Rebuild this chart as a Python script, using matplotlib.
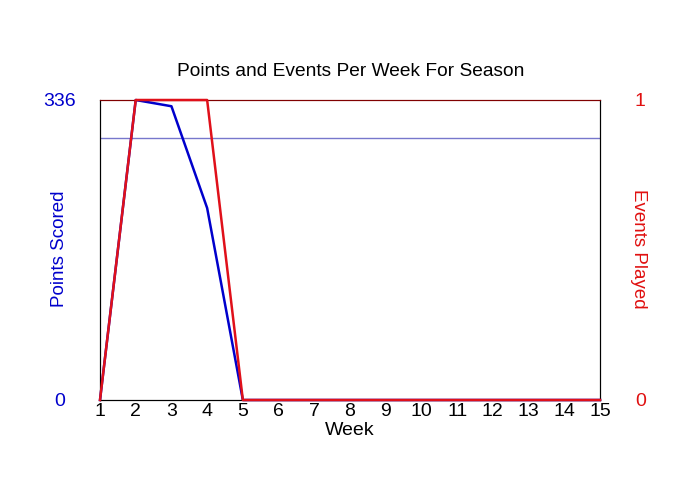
import matplotlib
matplotlib.use("Agg")
import matplotlib.pyplot as plt

weeks = list(range(1, 16))
points = [0, 336, 329, 215, 0, 0, 0, 0, 0, 0, 0, 0, 0, 0, 0]
events = [0, 1, 1, 1, 0, 0, 0, 0, 0, 0, 0, 0, 0, 0, 0]
avg_points = 293
title = "Points and Events Per Week For Season"

plt.rcParams['font.family'] = ['Liberation Sans', 'DejaVu Sans']

fig = plt.figure(figsize=(7, 5), dpi=100)
ax = fig.add_axes([100/700, 0.2, 500/700, 0.6])
ax2 = ax.twinx()

ax.plot(weeks, points, color='#0000cc', lw=1.8, zorder=3, clip_on=False)
ax.axhline(avg_points, color='#7777cc', lw=1, xmax=0.998)
ax2.plot(weeks, events, color='#e0101a', lw=1.8, zorder=3, clip_on=False)

ax.set_xlim(1, 15)
ax.set_ylim(0, 336)
ax2.set_ylim(0, 1)
ax.set_xticks(weeks)
ax.set_yticks([0, 336])
ax2.set_yticks([0, 1])
ax.tick_params(axis='x', length=0, pad=2, labelsize=14)
ax.tick_params(axis='y', length=0, pad=29, labelsize=14, labelcolor='#0000cc')
ax2.tick_params(axis='y', length=0, pad=29, labelsize=14, labelcolor='#e01010')
for lab in ax.get_yticklabels():
    lab.set_horizontalalignment('center')
for lab in ax2.get_yticklabels():
    lab.set_horizontalalignment('center')

for a in (ax, ax2):
    a.spines['top'].set_color('#800000')
    for s in ('left', 'right', 'bottom'):
        a.spines[s].set_color('black')

ax.set_xlabel("Week", fontsize=14, va='center')
ax.xaxis.set_label_coords(0.5, -0.103)
ax.set_ylabel("Points Scored", fontsize=13.5, color='#0000cc', va='center')
ax.yaxis.set_label_coords(-0.081, 0.503)
ax2.set_ylabel("Events Played", fontsize=13.5, color='#e01010', rotation=-90, va='center')
ax2.yaxis.set_label_coords(1.078, 0.503)
fig.text(351/700, 1 - 72/500, title, fontsize=13.75, ha='center', va='center')

fig.savefig("out.png", dpi=100)
